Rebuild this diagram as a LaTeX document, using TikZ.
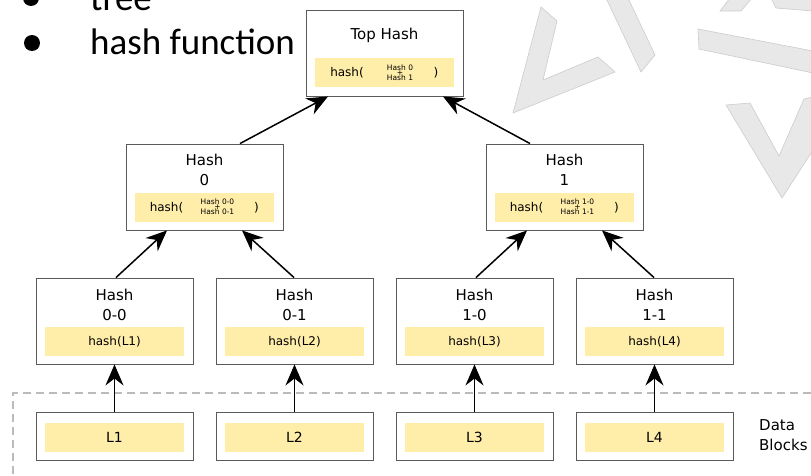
\documentclass[tikz,border=0pt]{standalone}
\usepackage{fontspec}
\setmainfont{DejaVu Sans}
\newfontfamily\slidefont{Carlito}
\usetikzlibrary{arrows.meta,calc}
\definecolor{hashyellow}{HTML}{FFEEAA}
\definecolor{boxgray}{HTML}{5A5A5A}
\definecolor{logofill}{HTML}{E8E8E8}
\definecolor{logoline}{HTML}{CCCCCC}
\definecolor{dashgray}{HTML}{BBBBBB}
\tikzset{
  hbox/.style={draw=boxgray, line width=0.9pt, fill=white, minimum width=157pt, minimum height=86pt, inner sep=0pt},
  lbox/.style={draw=boxgray, line width=0.9pt, fill=white, minimum width=157pt, minimum height=48pt, inner sep=0pt},
  ybar/.style={fill=hashyellow, minimum width=139pt, minimum height=29pt, inner sep=0pt},
  title/.style={font=\fontsize{15}{19.5}\selectfont, align=center, inner sep=0pt},
  small/.style={font=\fontsize{12}{14}\selectfont, inner sep=0pt},
  tiny/.style={font=\fontsize{7.5}{9}\selectfont, inner sep=0pt},
  arr/.style={-{Stealth[length=21pt,width=18pt,inset=7pt]}, line width=1.5pt, black},
  logo/.style={fill=logofill, draw=logoline, line width=0.6pt},
  slidetext/.style={font=\slidefont\fontsize{37}{40}\selectfont, anchor=base west, inner sep=0pt}
}
\begin{document}
\begin{tikzpicture}[x=1pt,y=-1pt]
\useasboundingbox (0,0) rectangle (811,476);
\fill[white] (0,0) rectangle (811,476);
% background logo fragments
\begin{scope}
\clip (0,0) rectangle (811,476);
\draw[logo] (541,7) -- (557,21) -- (543,80) -- (598,57) -- (615,72) -- (513,113) -- cycle;
\draw[logo] (606,-2) -- (628,-2) -- (655,55) -- (641,72) -- cycle;
\draw[logo] (720,11) -- (730,-2) -- (752,-2) -- (741,11) -- cycle;
\draw[logo] (771,-2) -- (776,8) -- (813,11) -- (813,-2) -- cycle;
\draw[logo] (698,29) -- (813,51) -- (813,73) -- (699,49) -- cycle;
\draw[logo] (726,105) -- (750,103) -- (779,156) -- (804,99) -- (813,97) -- (813,150) -- (782,198) -- cycle;
\end{scope}
% slide bullets
\fill (31,-2) circle (8);
\fill (32,43) circle (8);
\node[slidetext] (t1) at (90,11) {tree};
\node[slidetext] (t2) at (90,55) {hash function};
% data blocks frame
\draw[dashgray, line width=1.4pt, dash pattern=on 8pt off 5pt] (13,500) -- (13,393) -- (830,393);
\node[title, anchor=west, align=left] (db) at (759,435) {Data\\Blocks};
% top hash
\node[hbox] (top) at (384.5,53) {};
\node[ybar] at (384,72.5) {};
\node[title] at (384.5,35) {Top Hash};
\node[small] at (347,73) {hash(};
\node[tiny] at (400,67.5) {Hash 0};
\node[tiny] at (400,73) {+};
\node[tiny] at (400,78) {Hash 1};
\node[small] at (436,73) {)};
% level 1
\foreach \n/\cx/\lab/\a/\b in {h0/204.5/0/0-0/0-1, h1/564.5/1/1-0/1-1}{
  \node[hbox] (\n) at (\cx,187) {};
  \node[ybar] at (\cx,207) {};
  \node[title] at (\cx,170) {Hash\\\lab};
  \node[small] at ($(\cx,207.5)+(-38,0)$) {hash(};
  \node[tiny] at ($(\cx,201.5)+(13,0)$) {Hash \a};
  \node[tiny] at ($(\cx,207)+(13,0)$) {+};
  \node[tiny] at ($(\cx,212)+(13,0)$) {Hash \b};
  \node[small] at ($(\cx,207.5)+(52,0)$) {)};
}
% level 2 and data blocks
\foreach \n/\cx/\lab/\L in {h00/114.5/0-0/L1, h01/294.5/0-1/L2, h10/474.5/1-0/L3, h11/654.5/1-1/L4}{
  \node[hbox] (\n) at (\cx,321) {};
  \node[ybar] at (\cx,341.5) {};
  \node[title] at (\cx,305) {Hash\\\lab};
  \node[small] at (\cx,342) {hash(\L)};
  \node[lbox] (\L) at (\cx,436) {};
  \node[ybar] at (\cx,437.5) {};
  \node[font=\fontsize{14}{16}\selectfont, inner sep=0pt] at (\cx,437.5) {\L};
  \draw[arr] (\L.north) -- (\n.south);
}
% tree arrows
\draw[arr] ($(h00.north)+(1.5,0)$) -- ($(h0.south)+(-37.5,0)$);
\draw[arr] ($(h01.north)+(-0.5,0)$) -- ($(h0.south)+(37.5,0)$);
\draw[arr] ($(h10.north)+(1.5,0)$) -- ($(h1.south)+(-37.5,0)$);
\draw[arr] ($(h11.north)+(-0.5,0)$) -- ($(h1.south)+(37.5,0)$);
\draw[arr] ($(h0.north)+(35.5,0)$) -- ($(top.south)+(-56.5,0)$);
\draw[arr] ($(h1.north)+(-34.5,0)$) -- ($(top.south)+(58.5,0)$);
\end{tikzpicture}
\end{document}
